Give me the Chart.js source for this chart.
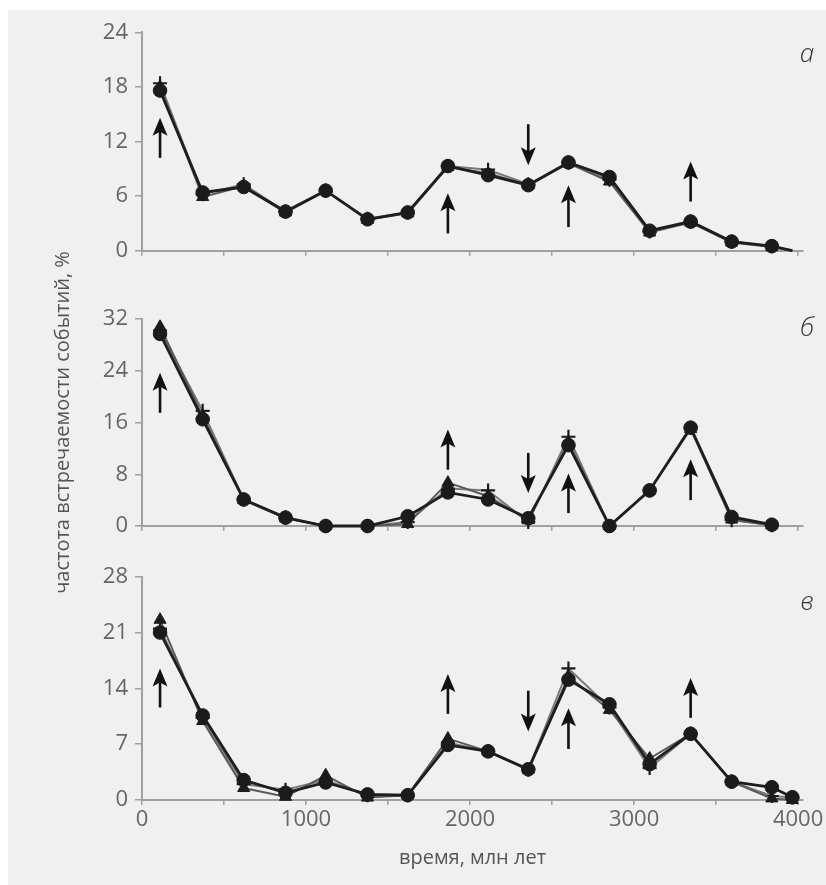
<!DOCTYPE html>
<html>
<head>
<meta charset="utf-8">
<script src="https://cdn.jsdelivr.net/npm/chart.js@4.4.1/dist/chart.umd.min.js"></script>
<style>
body { margin: 0; background: #fff; width: 826px; height: 885px; overflow: hidden; position: relative; }
#bg { position: absolute; left: 8px; top: 10px; width: 818px; height: 875px; background: #f0f0f0; }
canvas { position: absolute; left: 8px; top: 10px; }
</style>
</head>
<body>
<div id="bg"></div>
<canvas id="chartA" width="818" height="875"></canvas>
<canvas id="chartB" width="818" height="875"></canvas>
<canvas id="chartC" width="818" height="875"></canvas>
<script>
// время, млн лет (общая ось x)
const xs = [110, 370, 620, 875, 1120, 1375, 1620, 1865, 2110, 2355, 2600, 2850, 3095, 3345, 3595, 3840, 3965];
const xTicks = [0, 500, 1000, 1500, 2000, 2500, 3000, 3500, 4000];
const xLabels = [0, 1000, 2000, 3000, 4000];

// панель а
const aTicks = [0, 6, 12, 18, 24];
const aCircle = [17.6, 6.4, 7.0, 4.3, 6.6, 3.45, 4.2, 9.3, 8.3, 7.2, 9.7, 8.1, 2.2, 3.2, 1.0, 0.5, 0];
const aTriangle = [18.0, 5.9, 7.1, 4.2, 6.6, 3.4, 4.1, 9.2, 8.5, 7.2, 9.6, 7.6, 2.0, 3.1, 0.9, 0.4, 0];
const aCross = [18.4, 6.2, 7.3, 4.3, 6.6, 3.5, 4.2, 9.3, 8.9, 7.3, 9.7, 7.8, 2.1, 3.2, 1.0, 0.5, 0];
const aArrowX = [110, 1865, 2355, 2600, 3345];
const aArrowFrom = [10.2, 1.9, 13.9, 2.6, 5.4];
const aArrowTo = [14.6, 6.3, 9.4, 7.2, 9.8];

// панель б
const bTicks = [0, 8, 16, 24, 32];
const bCircle = [29.7, 16.5, 4.1, 1.3, 0, 0, 1.5, 5.2, 4.1, 1.2, 12.5, 0, 5.5, 15.2, 1.4, 0.2];
const bTriangle = [30.8, 17.0, 4.0, 1.2, 0, 0, 0.3, 6.7, 4.6, 0.9, 13.0, 0, 5.5, 15.0, 1.0, 0.1];
const bCross = [30.2, 17.8, 4.1, 1.3, 0, 0, 0.6, 5.8, 5.5, 0.6, 13.8, 0, 5.5, 15.2, 0.9, 0.1];
const bArrowX = [110, 1865, 2355, 2600, 3345];
const bArrowFrom = [17.5, 8.7, 11.3, 2.0, 4.0];
const bArrowTo = [23.7, 14.9, 5.1, 8.1, 10.3];

// панель в
const cTicks = [0, 7, 14, 21, 28];
const cCircle = [21.0, 10.6, 2.5, 0.9, 2.2, 0.7, 0.6, 6.9, 6.1, 3.85, 15.1, 12.0, 4.5, 8.3, 2.3, 1.6, 0.35];
const cTriangle = [22.6, 9.9, 1.5, 0.4, 3.1, 0.3, 0.6, 7.7, 6.1, 3.8, 15.5, 11.3, 5.2, 8.3, 2.3, 0.2, 0];
const cCross = [21.5, 10.3, 2.0, 1.3, 2.5, 0.6, 0.6, 7.2, 6.1, 3.8, 16.5, 11.6, 4.0, 8.3, 2.3, 0.5, 0.3];
const cArrowX = [110, 1865, 2355, 2600, 3345];
const cArrowFrom = [11.6, 10.8, 13.7, 6.4, 10.3];
const cArrowTo = [16.5, 15.8, 8.6, 11.5, 15.3];

Chart.defaults.font.family = '"Open Sans", sans-serif';

// стрелки поверх графика
const arrowPlugin = {
    id: 'arrows',
    afterDatasetsDraw(chart, args, opts) {
        const { ctx, scales: { x, y } } = chart;
        ctx.save();
        ctx.fillStyle = '#111';
        ctx.strokeStyle = '#111';
        ctx.lineWidth = 2.6;
        opts.xs.forEach((v, i) => {
            const px = x.getPixelForValue(v);
            const y0 = y.getPixelForValue(opts.from[i]);
            const y1 = y.getPixelForValue(opts.to[i]);
            const dir = y1 < y0 ? 1 : -1;
            ctx.beginPath();
            ctx.moveTo(px, y0);
            ctx.lineTo(px, y1 + dir * 10);
            ctx.stroke();
            ctx.beginPath();
            ctx.moveTo(px, y1);
            ctx.lineTo(px - 7.5, y1 + dir * 18);
            ctx.lineTo(px, y1 + dir * 14);
            ctx.lineTo(px + 7.5, y1 + dir * 18);
            ctx.closePath();
            ctx.fill();
        });
        ctx.restore();
    }
};

// буква панели (а, б, в)
const letterPlugin = {
    id: 'panelLetter',
    afterDraw(chart, args, opts) {
        const ctx = chart.ctx;
        ctx.save();
        ctx.font = 'italic 300 26px "Open Sans"';
        ctx.fillStyle = '#333';
        ctx.textAlign = 'center';
        ctx.textBaseline = 'alphabetic';
        ctx.fillText(opts.text, opts.x, opts.y);
        ctx.restore();
    }
};

function series(vals, style, lineColor, lineWidth, hideLast) {
    return {
        data: vals.map((v, i) => ({ x: xs[i], y: v })),
        borderColor: lineColor,
        borderWidth: lineWidth,
        pointStyle: style,
        pointRadius: c => (hideLast && c.dataIndex === vals.length - 1) ? 0 : (style === 'circle' ? 6.8 : 7),
        pointBackgroundColor: '#1b1b1b',
        pointBorderColor: '#1b1b1b',
        pointBorderWidth: style === 'cross' ? 2.2 : 1,
        tension: 0,
        fill: false,
        clip: false
    };
}

function makePanel(id, o) {
    return new Chart(document.getElementById(id), {
        type: 'line',
        data: {
            datasets: [
                series(o.circle, 'circle', '#1e1e1e', 2.8, o.hideLast),
                series(o.triangle, 'triangle', '#5a5a5a', 2, o.hideLast),
                series(o.cross, 'cross', '#7a7a7a', 2, o.hideLast)
            ]
        },
        plugins: [arrowPlugin, letterPlugin],
        options: {
            responsive: false,
            animation: false,
            events: [],
            layout: { padding: { top: o.top - 10, left: 0, right: 23, bottom: 0 } },
            plugins: {
                legend: { display: false },
                tooltip: { enabled: false },
                arrows: { xs: o.arrowX, from: o.arrowFrom, to: o.arrowTo },
                panelLetter: { text: o.letter, x: 799, y: o.letterY }
            },
            scales: {
                x: {
                    type: 'linear',
                    min: 0,
                    max: 4030,
                    afterBuildTicks: s => { s.ticks = xTicks.map(v => ({ value: v })); },
                    afterFit: s => { s.height = 875 - (o.zero - 10); },
                    border: { display: true, color: '#a0a0a0', width: 2 },
                    grid: { drawOnChartArea: false, drawTicks: true, tickLength: 5, color: '#a0a0a0', lineWidth: 1.5 },
                    ticks: {
                        display: o.xLabels,
                        autoSkip: false,
                        maxRotation: 0,
                        padding: 2,
                        color: '#666',
                        font: { size: 22, weight: 400 },
                        callback: v => xLabels.includes(v) ? v : ''
                    },
                    title: {
                        display: o.xLabels,
                        text: 'время, млн лет',
                        color: '#555',
                        font: { size: 20, weight: 400 },
                        padding: { top: 0, bottom: 15 }
                    }
                },
                y: {
                    min: 0,
                    max: o.ticks[o.ticks.length - 1],
                    afterBuildTicks: s => { s.ticks = o.ticks.map(v => ({ value: v })); },
                    afterFit: s => { s.width = 134; },
                    border: { display: true, color: '#a0a0a0', width: 2 },
                    grid: { drawOnChartArea: false, drawTicks: true, tickLength: 7, color: '#a0a0a0', lineWidth: 1.5 },
                    ticks: { padding: 7, color: '#666', font: { size: 22, weight: 400 } },
                    title: {
                        display: o.yTitle,
                        text: 'частота встречаемости событий, %',
                        color: '#555',
                        font: { size: 20, weight: 400 },
                        padding: { top: 43, bottom: 0 }
                    }
                }
            }
        }
    });
}

makePanel('chartA', {
    circle: aCircle, triangle: aTriangle, cross: aCross, ticks: aTicks,
    arrowX: aArrowX, arrowFrom: aArrowFrom, arrowTo: aArrowTo,
    top: 32.3, zero: 250.7, letter: 'а', letterY: 52, hideLast: true, xLabels: false, yTitle: false
});
makePanel('chartB', {
    circle: bCircle, triangle: bTriangle, cross: bCross, ticks: bTicks,
    arrowX: bArrowX, arrowFrom: bArrowFrom, arrowTo: bArrowTo,
    top: 319, zero: 526, letter: 'б', letterY: 326, hideLast: false, xLabels: false, yTitle: true
});
makePanel('chartC', {
    circle: cCircle, triangle: cTriangle, cross: cCross, ticks: cTicks,
    arrowX: cArrowX, arrowFrom: cArrowFrom, arrowTo: cArrowTo,
    top: 576.7, zero: 800, letter: 'в', letterY: 600, hideLast: false, xLabels: true, yTitle: false
});
</script>
</body>
</html>
